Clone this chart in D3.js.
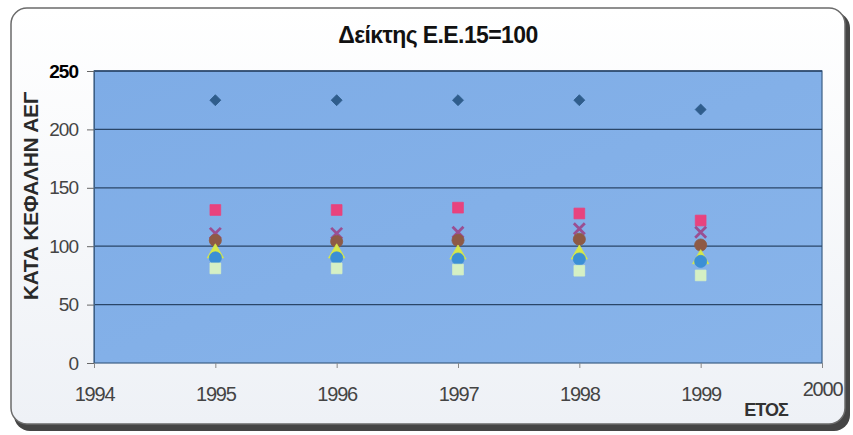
<!DOCTYPE html>
<html><head><meta charset="utf-8">
<script src="https://cdn.jsdelivr.net/npm/d3@7"></script>
<style>html,body{margin:0;padding:0;background:#fff;}svg{display:block;font-family:Arial,"Liberation Sans",sans-serif;}</style>
</head><body>
<svg id="c" width="853" height="435"></svg>
<script>
const years = [1995, 1996, 1997, 1998, 1999];
const xTicks = [1994, 1995, 1996, 1997, 1998, 1999, 2000];
const yTicks = [0, 50, 100, 150, 200, 250];
const seriesNames = ["S1", "S2", "S3", "S4", "S5", "S6", "S7"];
const s1 = [225, 225, 225, 225, 217];
const s2 = [131, 131, 133, 128, 122];
const s3 = [111, 111, 112, 115, 112];
const s4 = [105, 104, 105, 106, 101];
const s5 = [94, 94, 93, 93, 89];
const s6 = [90, 90, 89, 89, 87];
const s7 = [81, 81, 80, 79, 75];
const seriesValues = [s1, s2, s3, s4, s5, s6, s7];
const seriesShapes = ["diamond", "square", "cross", "circle", "triangle", "circle", "square"];
const seriesColors = ["#2f5d8c", "#e8437e", "#9a4f92", "#8e5a45", "#d6e84a", "#3b8fd6", "#d5f0c4"];

const svg = d3.select("#c");
const defs = svg.append("defs");
const bg = defs.append("linearGradient").attr("id","bg").attr("x1",0).attr("y1",0).attr("x2",0).attr("y2",1);
bg.append("stop").attr("offset","0").attr("stop-color","#ffffff");
bg.append("stop").attr("offset","1").attr("stop-color","#eef1f6");
const pg = defs.append("linearGradient").attr("id","pg").attr("x1",0).attr("y1",0).attr("x2",1).attr("y2",1);
pg.append("stop").attr("offset","0").attr("stop-color","#7eace6");
pg.append("stop").attr("offset","1").attr("stop-color","#88b4ea");

// chart frame with shadow
svg.append("rect").attr("x",14).attr("y",12).attr("width",836).attr("height",419).attr("rx",16).attr("fill","#454545");
svg.append("rect").attr("x",11).attr("y",8).attr("width",834).attr("height",416).attr("rx",16)
  .attr("fill","url(#bg)").attr("stroke","#6b6b6b").attr("stroke-width",1.5);

const m = {l:94, r:822, t:71, b:363};
const x = d3.scaleLinear().domain([1994, 2000]).range([m.l, m.r]);
const y = d3.scaleLinear().domain([0, 250]).range([m.b, m.t]);

svg.append("rect").attr("x",m.l).attr("y",m.t).attr("width",m.r-m.l).attr("height",m.b-m.t)
  .attr("fill","url(#pg)").attr("stroke","#3c5f86").attr("stroke-width",1.2);

// gridlines
svg.append("g").selectAll("line").data(yTicks.filter(d=>d>0)).join("line")
  .attr("x1",m.l).attr("x2",m.r).attr("y1",d=>y(d)).attr("y2",d=>y(d))
  .attr("stroke","#2a4668").attr("stroke-width",1.3);

// axes
const yAxis = d3.axisLeft(y).tickValues(yTicks).tickSize(7).tickPadding(9);
const gy = svg.append("g").attr("transform",`translate(${m.l},0)`).call(yAxis);
gy.select(".domain").attr("stroke","#3c5f86");
gy.selectAll(".tick line").attr("stroke","#666");
gy.selectAll(".tick text").attr("font-size",19).attr("letter-spacing","-1px")
  .attr("font-weight",d=>d===250?"bold":"normal").attr("fill",d=>d===250?"#000":"#444");

const xAxis = d3.axisBottom(x).tickValues(xTicks).tickFormat(d3.format("d")).tickSize(5).tickPadding(19);
const gx = svg.append("g").attr("transform",`translate(0,${m.b})`).call(xAxis);
gx.select(".domain").remove();
gx.selectAll(".tick line").attr("stroke","#888");
gx.selectAll(".tick text").attr("font-size",20).attr("fill","#444").attr("letter-spacing","-1.2px")
  .attr("dy", d=>d===2000?"0.45em":"0.71em");

// markers
const sym = {diamond:d3.symbolSquare, square:d3.symbolSquare, circle:d3.symbolCircle, triangle:d3.symbolTriangle, cross:d3.symbolTimes};
seriesValues.forEach((vals,i)=>{
  const shape = seriesShapes[i];
  const g = svg.append("g");
  g.selectAll("path").data(vals.map((v,j)=>({x:years[j], v}))).join("path")
    .attr("transform",d=>`translate(${x(d.x)},${y(d.v)})` + (shape==="diamond"?" rotate(45)":""))
    .attr("d", d3.symbol().type(sym[shape]).size(shape==="cross"?80:(shape==="diamond"?60:115)))
    .attr("fill", shape==="cross"?"none":seriesColors[i])
    .attr("stroke", seriesColors[i]).attr("stroke-width", shape==="cross"?2.8:0.8);
});

// title and labels
svg.append("text").attr("x",438).attr("y",43).attr("text-anchor","middle")
  .attr("font-size",23).attr("font-weight","bold").attr("fill","#111").attr("letter-spacing","-0.6px").text("Δείκτης Ε.Ε.15=100");
svg.append("text").attr("transform","translate(38,196) rotate(-90)").attr("text-anchor","middle")
  .attr("font-size",21).attr("font-weight","bold").attr("fill","#2a2a2a").attr("letter-spacing","-0.3px").text("ΚΑΤΑ ΚΕΦΑΛΗΝ ΑΕΓ");
svg.append("text").attr("x",766).attr("y",416).attr("text-anchor","middle")
  .attr("font-size",18).attr("font-weight","bold").attr("fill","#333").attr("letter-spacing","-1px").text("ΕΤΟΣ");
</script>
</body></html>
